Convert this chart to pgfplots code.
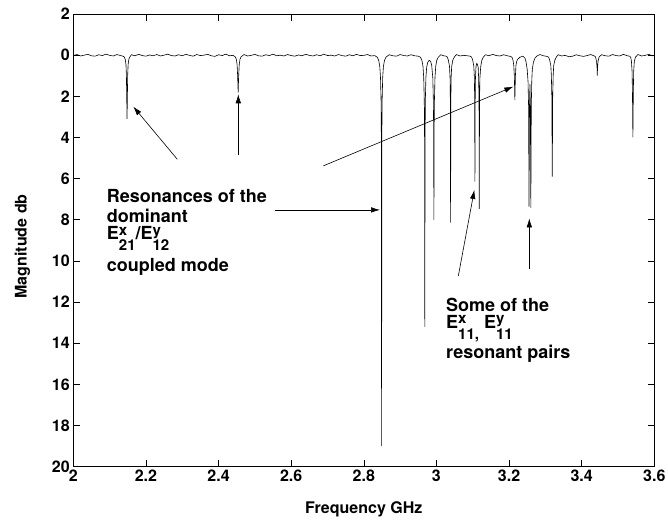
\documentclass[border=0pt]{standalone}
\usepackage{fontspec}
\setmainfont{TeX Gyre Heros}
\usepackage{pgfplots}
\pgfplotsset{compat=1.18}
\usetikzlibrary{arrows.meta}
\newcommand\supsub[2]{\rlap{\raisebox{4.5pt}{\fontsize{15}{15}\selectfont\bfseries #1}}\raisebox{-11pt}{\fontsize{15}{15}\selectfont\bfseries #2}}
\begin{document}
\begin{tikzpicture}
\begin{axis}[
  scale only axis,
  width=581pt, height=452.7pt,
  xmin=2, xmax=3.6, ymin=-2, ymax=20,
  y dir=reverse,
  xtick={2,2.2,2.4,2.6,2.8,3,3.2,3.4,3.6},
  xticklabels={2,2.2,2.4,2.6,2.8,3,3.2,3.4,3.6},
  ytick={-2,0,2,4,6,8,10,12,14,16,18,20},
  yticklabels={2,0,2,4,6,8,10,12,14,16,18,20},
  /pgf/number format/assume math mode=true,
  tick label style={font=\fontsize{16}{18}\selectfont\bfseries},
  label style={font=\fontsize{16}{18}\selectfont\bfseries},
  xlabel={Frequency GHz},
  ylabel={Magnitude db},
  xlabel style={at={(rel axis cs:0.5,0)}, anchor=center, yshift=-43pt},
  ylabel style={at={(rel axis cs:0,0.5)}, anchor=center, yshift=51pt, xshift=-6pt},
  tick align=inside,
  major tick length=6.5pt,
  axis line style={line width=0.8pt},
  every tick/.style={line width=0.6pt, black},
  clip=false,
]
\coordinate (bl) at (rel axis cs:0,0);
\coordinate (tr) at (rel axis cs:1,1);
\addplot[black, line width=0.6pt] coordinates {
(2.00,0.02)(2.01,-0.03)(2.02,0.04)(2.03,0.00)(2.04,-0.04)(2.05,0.03)(2.06,0.05)(2.07,-0.02)(2.08,0.02)(2.09,-0.05)
(2.10,0.01)(2.11,0.04)(2.12,-0.03)(2.13,0.02)(2.137,0.05)
(2.140,0.08)(2.143,0.2)(2.145,0.45)(2.1463,1.0)(2.1472,2.2)(2.148,3.1)(2.1488,2.2)(2.1497,1.0)(2.151,0.45)(2.153,0.2)(2.156,0.08)
(2.16,-0.02)(2.17,0.03)(2.18,-0.04)(2.19,0.02)(2.20,0.05)(2.21,-0.01)(2.22,0.03)(2.23,-0.03)(2.24,0.04)(2.25,0.00)
(2.26,-0.05)(2.27,0.02)(2.28,0.04)(2.29,-0.02)(2.30,0.03)(2.31,-0.04)(2.32,0.01)(2.33,0.05)(2.34,-0.03)(2.35,0.02)
(2.36,0.00)(2.37,-0.04)(2.38,0.03)(2.39,0.06)(2.40,-0.02)(2.41,0.02)(2.42,-0.05)(2.43,0.03)(2.44,0.01)
(2.446,0.08)(2.449,0.2)(2.451,0.45)(2.4523,0.9)(2.4532,1.35)(2.454,1.82)(2.4548,1.35)(2.4557,0.9)(2.457,0.45)(2.459,0.2)(2.462,0.08)
(2.47,-0.03)(2.48,0.04)(2.49,0.01)(2.50,-0.04)(2.51,0.03)(2.52,0.05)(2.53,-0.02)(2.54,0.02)(2.55,-0.05)(2.56,0.03)
(2.57,0.00)(2.58,0.04)(2.59,-0.03)(2.60,0.02)(2.61,0.05)(2.62,-0.01)(2.63,0.03)(2.64,-0.04)(2.65,0.01)(2.66,0.04)
(2.67,-0.02)(2.68,0.03)(2.69,-0.05)(2.70,0.02)(2.71,0.00)(2.72,0.04)(2.73,-0.03)(2.74,0.02)(2.75,0.05)(2.76,-0.02)
(2.77,0.03)(2.78,-0.04)(2.79,0.02)(2.80,0.01)(2.81,-0.03)(2.82,0.04)(2.83,0.02)
(2.837,0.1)(2.841,0.25)(2.844,0.55)(2.846,1.1)(2.8475,2.2)(2.8483,4.0)(2.849,19.0)(2.8497,4.0)(2.8505,2.2)(2.852,1.1)(2.854,0.55)(2.857,0.25)(2.861,0.1)
(2.87,-0.02)(2.88,0.03)(2.89,0.05)(2.90,-0.03)(2.91,0.02)(2.92,0.04)(2.93,-0.02)(2.94,0.03)(2.95,0.05)
(2.956,0.1)(2.960,0.25)(2.963,0.55)(2.965,1.1)(2.9665,2.2)(2.9673,4.0)(2.968,13.2)(2.9687,4.0)(2.9695,2.2)(2.971,1.1)(2.973,0.6)(2.976,0.35)(2.980,0.25)
(2.984,0.3)(2.987,0.5)(2.990,1.1)(2.9915,2.2)(2.9923,3.5)(2.993,8.0)(2.9937,3.5)(2.9945,2.2)(2.996,1.1)(2.998,0.55)(3.001,0.25)(3.005,0.1)
(3.012,-0.02)(3.020,0.03)(3.027,0.05)
(3.030,0.1)(3.033,0.25)(3.036,0.55)(3.0375,1.1)(3.0383,2.2)(3.039,8.14)(3.0397,2.2)(3.0405,1.1)(3.042,0.55)(3.045,0.25)(3.049,0.1)
(3.055,-0.03)(3.065,0.04)(3.075,0.01)(3.085,0.03)(3.093,0.05)
(3.097,0.1)(3.100,0.25)(3.103,0.55)(3.1045,1.1)(3.1053,2.2)(3.106,6.15)(3.1067,2.2)(3.1075,1.1)(3.109,0.55)(3.111,0.4)(3.113,0.45)
(3.115,0.6)(3.1162,1.1)(3.1173,2.2)(3.118,7.47)(3.1187,2.2)(3.1198,1.1)(3.122,0.55)(3.125,0.25)(3.129,0.1)
(3.135,-0.02)(3.145,0.03)(3.155,-0.04)(3.165,0.02)(3.175,0.04)(3.185,-0.02)(3.195,0.03)(3.204,0.06)
(3.208,0.1)(3.211,0.25)(3.213,0.5)(3.2145,1.0)(3.2153,1.6)(3.216,2.18)(3.2167,1.6)(3.2175,1.0)(3.219,0.5)(3.221,0.3)(3.224,0.2)
(3.230,0.1)(3.238,0.05)(3.244,0.15)(3.247,0.35)(3.250,0.7)(3.2523,1.3)(3.2538,2.5)(3.255,7.36)(3.2563,2.5)(3.2575,1.4)
(3.2587,2.5)(3.260,7.42)(3.2612,2.5)(3.2625,1.3)(3.264,0.7)(3.267,0.35)(3.271,0.15)(3.276,0.05)
(3.285,-0.03)(3.295,0.03)(3.304,0.06)
(3.309,0.1)(3.312,0.25)(3.315,0.5)(3.3165,1.0)(3.3178,2.0)(3.319,5.9)(3.3202,2.0)(3.3215,1.0)(3.323,0.5)(3.326,0.25)(3.330,0.1)
(3.335,-0.02)(3.345,0.04)(3.355,0.01)(3.365,0.08)(3.375,0.05)(3.385,-0.02)(3.395,0.03)(3.405,0.06)(3.415,0.02)(3.425,-0.03)(3.435,0.04)
(3.438,0.08)(3.441,0.3)(3.4423,0.6)(3.443,1.0)(3.4437,0.6)(3.445,0.3)(3.448,0.08)
(3.455,-0.02)(3.465,0.03)(3.475,0.05)(3.485,-0.03)(3.495,0.02)(3.505,0.04)(3.515,-0.04)(3.525,0.03)(3.532,0.05)
(3.535,0.1)(3.537,0.3)(3.5388,0.8)(3.5398,1.8)(3.541,3.99)(3.5422,1.8)(3.5432,0.8)(3.545,0.3)(3.548,0.1)
(3.555,-0.03)(3.565,0.04)(3.575,0.01)(3.585,-0.04)(3.595,0.03)(3.600,0.02)
};
% arrows
\begin{scope}[line width=0.6pt, -{Latex[length=9pt,width=5.5pt]}]
\draw (axis cs:2.2864,5.06) -- (axis cs:2.1652,2.50);
\draw (axis cs:2.4544,4.85) -- (axis cs:2.4544,1.90);
\draw (axis cs:2.6885,5.38) -- (axis cs:3.2118,1.53);
\draw (axis cs:2.5555,7.52) -- (axis cs:2.8447,7.52);
\draw (axis cs:3.0603,10.73) -- (axis cs:3.1044,6.55);
\draw (axis cs:3.2558,10.40) -- (axis cs:3.2558,7.93);
\end{scope}
% annotations
\begin{scope}[every node/.style={anchor=base west, inner sep=0pt, font=\fontsize{18}{20}\selectfont\bfseries}]
\node at (axis cs:2.092,7.18) {Resonances of the};
\node at (axis cs:2.092,8.15) {dominant};
\node at (axis cs:2.092,8.98) {E\supsub{x}{21}/E\supsub{y}{12}};
\node at (axis cs:2.092,10.53) {coupled mode};
\node at (axis cs:3.0264,12.48) {Some of the};
\node at (axis cs:3.0264,13.26) {E\supsub{x}{11,}\ E\supsub{y}{11}};
\node at (axis cs:3.0264,14.72) {resonant pairs};
\end{scope}
\end{axis}
\pgfresetboundingbox
\path ([shift={(-73.3pt,-55.3pt)}]bl) rectangle ([shift={(13.7pt,14pt)}]tr);
\end{tikzpicture}
\end{document}
